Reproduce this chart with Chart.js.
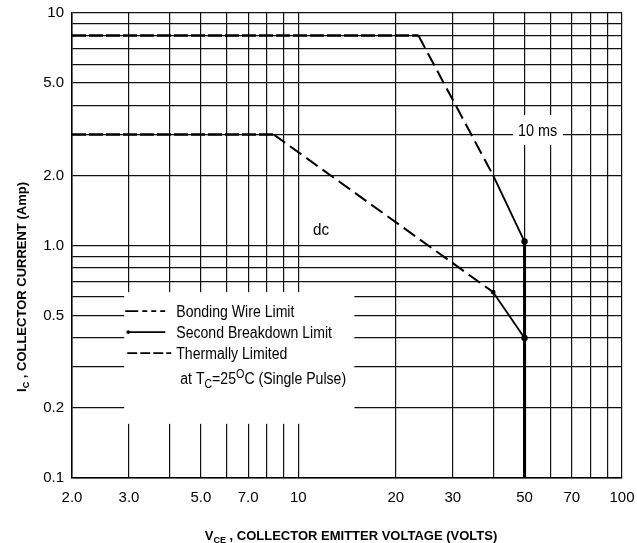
<!DOCTYPE html>
<html><head><meta charset="utf-8">
<script src="https://cdn.jsdelivr.net/npm/chart.js@4.4.1/dist/chart.umd.min.js"></script>
<style>html,body{margin:0;padding:0;background:#fff;}canvas{display:block;}</style>
</head><body>
<canvas id="c" width="637" height="543"></canvas>
<script>
// ---- data ----
const tenMsVolts = [2, 23.5, 40, 50, 50];
const tenMsAmps  = [8, 8, 2.0, 1.04, 0.1];
const dcVolts = [2, 8.4, 40, 50, 50];
const dcAmps  = [3, 3, 0.63, 0.4, 0.1];
const segmentLimits = ['bonding', 'thermal', 'secondBreakdown', 'voltage'];
const xGridValues = [2,3,4,5,6,7,8,9,10,20,30,40,50,60,70,80,90,100];
const xTickValues = [2,3,5,7,10,20,30,50,70,100];
const xTickLabels = ['2.0','3.0','5.0','7.0','10','20','30','50','70','100'];
const yGridValues = [0.1,0.2,0.3,0.4,0.5,0.6,0.7,0.8,0.9,1,2,3,4,5,6,7,8,9,10];
const yTickValues = [0.1,0.2,0.5,1,2,5,10];
const yTickLabels = ['0.1','0.2','0.5','1.0','2.0','5.0','10'];
const legendLabels = ['Bonding Wire Limit', 'Second Breakdown Limit', 'Thermally Limited'];
const curveLabels = ['10 ms', 'dc'];

// ---- styles ----
const segStyle = {
  bonding: {width: 2.4, dash: [14, 3]},
  thermal: {width: 2, dash: [14, 6]},
  secondBreakdown: {width: 1.8, dash: []},
  voltage: {width: 3, dash: []}
};
const FAM = '"Liberation Sans", Arial, sans-serif';
const TICKFAM = '"Liberation Sans Narrow", "Arial Narrow", "Liberation Sans", Arial, sans-serif';

function labelFor(v, vals, labels) {
  for (let i = 0; i < vals.length; i++) if (Math.abs(vals[i] - v) < 1e-6 * vals[i]) return labels[i];
  return '';
}
function pts(xs, ys) { return xs.map((v, i) => ({x: v, y: ys[i]})); }

function drawRuns(ctx, runs, x, y, align) {
  let total = 0;
  runs.forEach(r => { ctx.font = r.font; r.w = ctx.measureText(r.t).width * (r.sx || 1); total += r.w; });
  let cx = align === 'center' ? x - total / 2 : x;
  runs.forEach(r => {
    ctx.save(); ctx.font = r.font; ctx.translate(cx, y + (r.dy || 0)); ctx.scale(r.sx || 1, 1);
    ctx.fillText(r.t, 0, 0); ctx.restore(); cx += r.w;
  });
}

const overlay = {
  id: 'overlay',
  beforeDatasetsDraw(chart) {
    const {ctx, scales: {x, y}} = chart;
    ctx.save(); ctx.fillStyle = '#fff';
    // legend box and "10 ms" label box (in data units so they sit on the grid)
    const boxes = [[2.9, 14.9, 0.63, 0.171], [46.1, 65.7, 3.64, 2.71]];
    boxes.forEach(b => {
      const x0 = x.getPixelForValue(b[0]), x1 = x.getPixelForValue(b[1]);
      const y0 = y.getPixelForValue(b[2]), y1 = y.getPixelForValue(b[3]);
      ctx.fillRect(x0, y0, x1 - x0, y1 - y0);
    });
    ctx.restore();
  },
  afterDraw(chart) {
    const {ctx, scales: {x, y}} = chart;
    ctx.save();
    ctx.fillStyle = '#000'; ctx.strokeStyle = '#000'; ctx.textBaseline = 'alphabetic';
    // axis titles
    drawRuns(ctx, [
      {t: 'V', font: 'bold 13px ' + FAM},
      {t: 'CE', font: 'bold 9px ' + FAM, dy: 3},
      {t: ' , COLLECTOR EMITTER VOLTAGE (VOLTS)', font: 'bold 13px ' + FAM}
    ], 351, 540, 'center');
    ctx.save(); ctx.translate(21, 287); ctx.rotate(-Math.PI / 2);
    drawRuns(ctx, [
      {t: 'I', font: 'bold 13px ' + FAM},
      {t: 'C', font: 'bold 9px ' + FAM, dy: 3},
      {t: ' , COLLECTOR CURRENT (Amp)', font: 'bold 13px ' + FAM}
    ], 0, 4.6, 'center');
    ctx.restore();
    // curve labels
    drawRuns(ctx, [{t: curveLabels[0], font: '16px ' + FAM, sx: 0.9}], 537.5, 136, 'center');
    drawRuns(ctx, [{t: curveLabels[1], font: '16px ' + FAM, sx: 0.95}], 321, 235, 'center');
    // legend samples
    const lx = x.getPixelForValue(2.9);
    const lyTop = y.getPixelForValue(0.63);
    ctx.lineWidth = 1.6;
    const rows = [lyTop + 19, lyTop + 40, lyTop + 61];
    ctx.setLineDash([13, 4, 5, 4, 5, 4, 5]);
    ctx.beginPath(); ctx.moveTo(lx + 1, rows[0]); ctx.lineTo(lx + 41, rows[0]); ctx.stroke();
    ctx.setLineDash([]);
    ctx.beginPath(); ctx.moveTo(lx + 3, rows[1]); ctx.lineTo(lx + 41, rows[1]); ctx.stroke();
    ctx.beginPath(); ctx.arc(lx + 4, rows[1], 1.8, 0, Math.PI * 2); ctx.fill();
    ctx.setLineDash([10, 3]);
    ctx.beginPath(); ctx.moveTo(lx + 3, rows[2]); ctx.lineTo(lx + 47, rows[2]); ctx.stroke();
    ctx.setLineDash([]);
    for (let i = 0; i < 3; i++) {
      drawRuns(ctx, [{t: legendLabels[i], font: '16px ' + FAM, sx: 0.88}], lx + 52, rows[i] + 6, 'left');
    }
    const ay = lyTop + 92;
    drawRuns(ctx, [
      {t: 'at T', font: '16px ' + FAM, sx: 0.88},
      {t: 'C', font: '12px ' + FAM, sx: 0.88, dy: 4},
      {t: '=25', font: '16px ' + FAM, sx: 0.88},
      {t: 'O', font: '12px ' + FAM, sx: 0.9, dy: -6},
      {t: 'C (Single Pulse)', font: '16px ' + FAM, sx: 0.88}
    ], lx + 56, ay, 'left');
    ctx.restore();
  }
};

const segOpts = {
  borderDash: c => segStyle[segmentLimits[c.p0DataIndex]].dash,
  borderWidth: c => segStyle[segmentLimits[c.p0DataIndex]].width
};

new Chart(document.getElementById('c'), {
  type: 'line',
  data: {
    datasets: [
      {label: curveLabels[0], data: pts(tenMsVolts, tenMsAmps), borderColor: '#000', backgroundColor: '#000',
       borderWidth: 2, tension: 0, fill: false, segment: segOpts,
       pointRadius: c => c.dataIndex === 3 ? 2.2 : 0},
      {label: curveLabels[1], data: pts(dcVolts, dcAmps), borderColor: '#000', backgroundColor: '#000',
       borderWidth: 2, tension: 0, fill: false, segment: segOpts,
       pointRadius: c => c.dataIndex === 3 ? 2.2 : (c.dataIndex === 2 ? 1.4 : 0)}
    ]
  },
  options: {
    responsive: false, animation: false, devicePixelRatio: 1,
    layout: {padding: {top: 13, right: 15, left: 0, bottom: 0}},
    plugins: {legend: {display: false}, tooltip: {enabled: false}},
    scales: {
      x: {
        type: 'logarithmic', min: 2, max: 100,
        afterBuildTicks: s => { s.ticks = xGridValues.map(v => ({value: v})); },
        afterFit: s => { s.height = 65; s.paddingLeft = 0; s.paddingRight = 0; },
        ticks: {autoSkip: false, maxRotation: 0, minRotation: 0, padding: 11, color: '#000',
          font: {family: TICKFAM, size: 15}, callback: v => labelFor(v, xTickValues, xTickLabels)},
        grid: {color: '#111', lineWidth: 1.2, drawTicks: false},
        border: {color: '#000', width: 1.5}
      },
      y: {
        type: 'logarithmic', min: 0.1, max: 10,
        afterBuildTicks: s => { s.ticks = yGridValues.map(v => ({value: v})); },
        afterFit: s => { s.width = 72; s.paddingTop = 0; s.paddingBottom = 0; },
        ticks: {autoSkip: false, padding: 8, color: '#000',
          font: {family: TICKFAM, size: 15}, callback: v => labelFor(v, yTickValues, yTickLabels)},
        grid: {color: '#111', lineWidth: 1.2, drawTicks: false},
        border: {color: '#000', width: 1.5}
      }
    }
  },
  plugins: [overlay]
});
</script>
</body></html>
